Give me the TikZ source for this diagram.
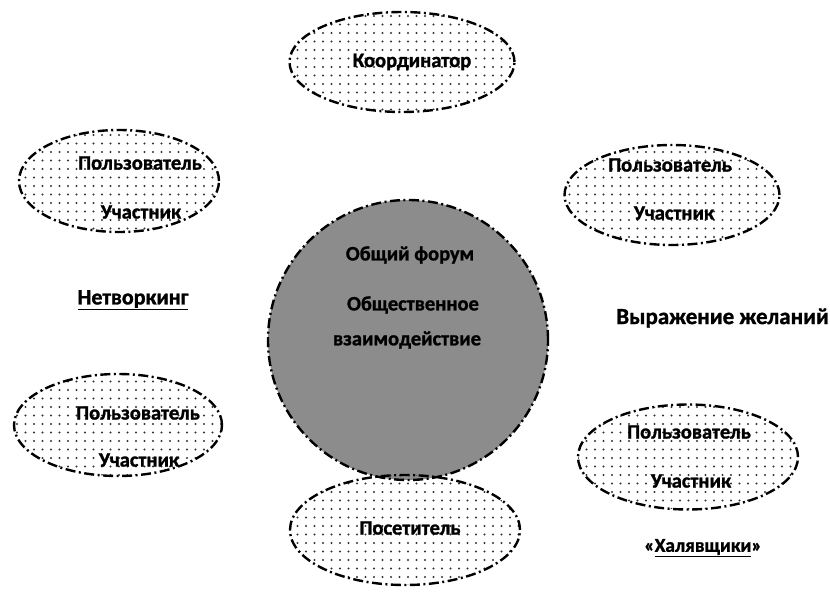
\documentclass[tikz,border=0pt]{standalone}
\usepackage{fontspec}
\setmainfont{Carlito}[BoldFeatures={FakeBold=1.2}]
\usetikzlibrary{shapes.geometric,patterns}
\pgfdeclarepatternformonly{bigdots}{\pgfqpoint{-1.5pt}{-1.5pt}}{\pgfqpoint{8.5pt}{8.5pt}}{\pgfqpoint{8.5pt}{8.5pt}}{%
  \pgfpathcircle{\pgfqpoint{0pt}{0pt}}{1.1pt}\pgfusepath{fill}}
\tikzset{
  dashdot/.style={line width=2.4pt, dash pattern=on 10pt off 3.5pt on 2pt off 3.5pt},
  oval/.style={ellipse, draw, dashdot, pattern=bigdots, pattern color=black!80, inner sep=0pt},
  hub/.style={circle, draw, dashdot, fill=black!45, inner sep=0pt},
  lbl/.style={font=\bfseries\fontsize{20.5}{24}\selectfont, inner sep=0pt, anchor=center},
}
\begin{document}
\begin{tikzpicture}[x=1pt,y=-1pt]
\useasboundingbox (0,0) rectangle (830,594);
% shapes
\node[oval, minimum width=225pt, minimum height=100pt] (top) at (402,62) {};
\node[oval, minimum width=200pt, minimum height=102pt] (tl) at (119,181) {};
\node[oval, minimum width=215pt, minimum height=100pt] (tr) at (672,195) {};
\node[hub, minimum size=280pt] (hub) at (408,340) {};
\node[oval, minimum width=208pt, minimum height=102pt] (bl) at (118,425) {};
\node[oval, minimum width=220pt, minimum height=105pt] (br) at (688,457) {};
\node[oval, minimum width=230pt, minimum height=110pt] (bot) at (405,530) {};
% texts
\node[lbl] (topt) at (412,62) {Координатор};
\node[lbl] (tl1) at (140,163) {Пользователь};
\node[lbl] (tl2) at (141,212) {Участник};
\node[lbl] (tr1) at (670,165) {Пользователь};
\node[lbl] (tr2) at (674,213) {Участник};
\node[lbl] (hub1) at (410,255) {Общий форум};
\node[lbl] (hub2) at (413,305) {Общественное};
\node[lbl] (hub3) at (407,340) {взаимодействие};
\node[lbl, font=\bfseries\fontsize{22}{26}\selectfont] (net) at (133,300) {\underline{Нетворкинг}};
\node[lbl, font=\bfseries\fontsize{23}{27}\selectfont, anchor=east] (wish) at (829,318) {Выражение желаний};
\node[lbl] (bl1) at (138,413) {Пользователь};
\node[lbl] (bl2) at (139,460) {Участник};
\node[lbl] (br1) at (689,432) {Пользователь};
\node[lbl] (br2) at (691,481) {Участник};
\node[lbl] (bott) at (410,528) {Посетитель};
\node[lbl, font=\bfseries\fontsize{19.5}{23}\selectfont] (free) at (703,548) {«\underline{Халявщики}»};
\end{tikzpicture}
\end{document}
